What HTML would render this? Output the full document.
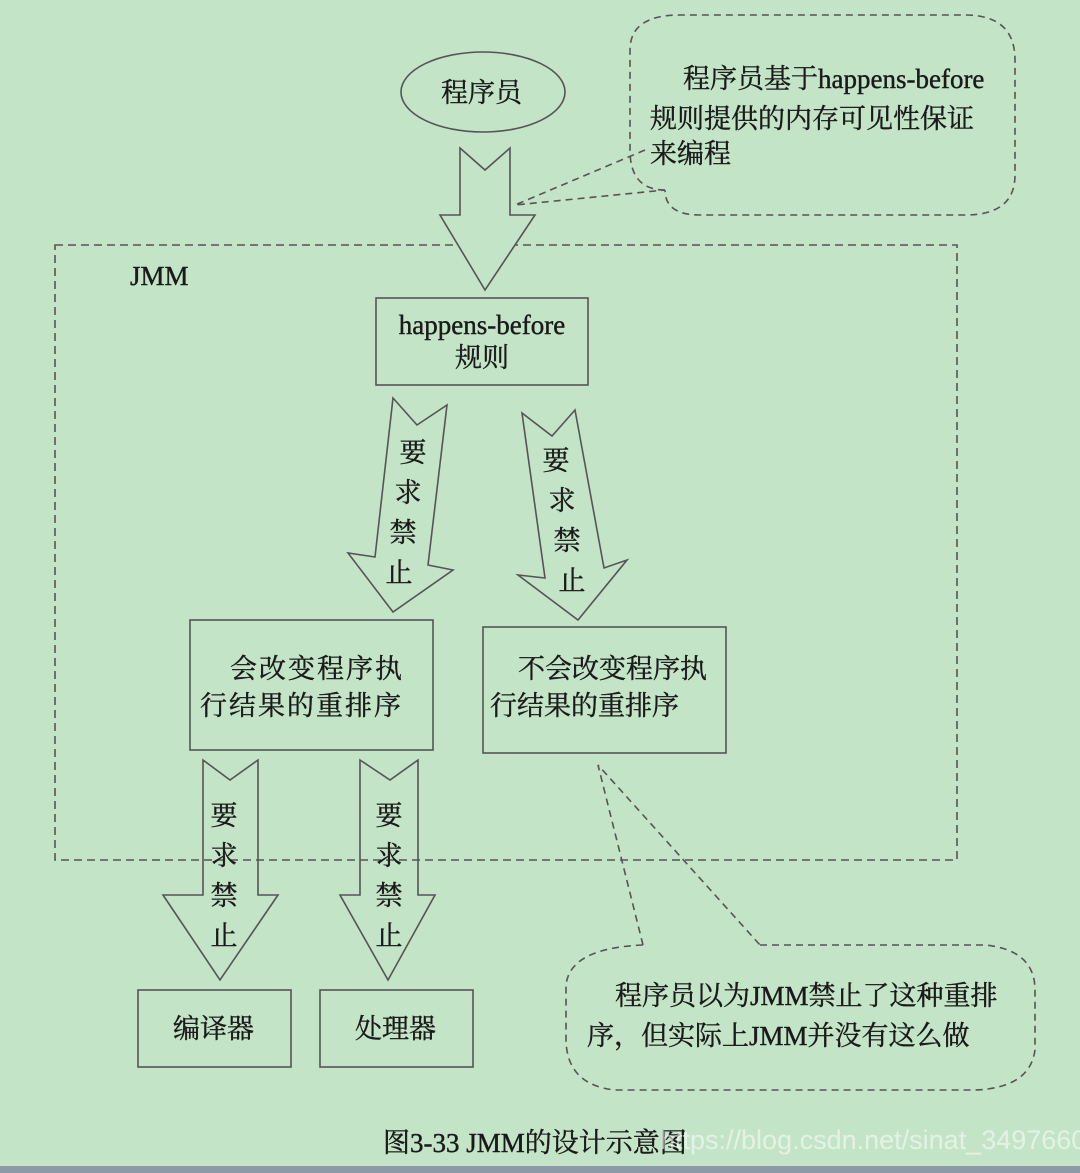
<!DOCTYPE html>
<html><head><meta charset="utf-8"><style>
html,body{margin:0;padding:0;background:#c3e4c6;}
svg{display:block}
text{font-family:"Liberation Serif","Noto Serif CJK SC",serif;fill:#1a1a1a;font-size:27px;stroke:#1a1a1a;stroke-width:0.4;}
</style></head><body>
<svg width="1080" height="1173" viewBox="0 0 1080 1173">
<rect width="1080" height="1173" fill="#c3e4c6"/>
<rect x="0" y="1166" width="1080" height="7" fill="#8c9aa8"/>
<g fill="none" stroke="#555" stroke-width="1.6">
<ellipse cx="483" cy="92" rx="82" ry="40"/>
<path d="M645,150 L515,205 L665,190" stroke-dasharray="7,5"/>
<path d="M665,190 Q630,190 630,150 L630,50 Q630,15 680,15 L965,15 Q1015,15 1015,60 L1015,175 Q1015,215 965,215 L700,215 Q665,215 665,190" stroke-dasharray="7,5"/>
<rect x="55" y="245" width="902" height="615" stroke-dasharray="8,5"/>
<path d="M460,148 L485,170 L510,148 L510,215 L535,215 L485,290 L440,215 L460,215 Z" fill="#c3e4c6"/>
<rect x="376" y="298" width="212" height="87"/>
<path d="M393,398 L417,425 L447,405 L428,565 L453,570 L393,612 L348,553 L375,557 Z"/>
<path d="M522,413 L552,436 L575,410 L604,568 L627,560 L578,620 L518,575 L545,578 Z"/>
<rect x="190" y="620" width="243" height="130"/>
<rect x="483" y="627" width="243" height="126"/>
<path d="M203,760 L230,780 L258,760 L258,895 L278,895 L220,980 L163,895 L203,895 Z"/>
<path d="M360,760 L390,780 L418,760 L418,895 L435,895 L388,980 L340,895 L360,895 Z"/>
<rect x="138" y="990" width="153" height="77"/>
<rect x="320" y="990" width="153" height="77"/>
<path d="M643,945 L598,765 L760,945" stroke-dasharray="7,5"/>
<path d="M760,945 L985,945 Q1035,950 1035,990 L1035,1050 Q1030,1088 975,1090 L615,1090 Q567,1085 566,1040 L566,985 Q570,948 643,945" stroke-dasharray="7,5"/>
</g>
<text x="441" y="102">程序员</text>
<text x="683" y="88">程序员基于happens-before</text>
<text x="650" y="128">规则提供的内存可见性保证</text>
<text x="650" y="163">来编程</text>
<text x="130" y="285" font-size="24">JMM</text>
<text x="482" y="334" text-anchor="middle" font-size="25">happens-before</text>
<text x="482" y="367" text-anchor="middle">规则</text>
<g text-anchor="middle">
<text x="413" y="462">要</text><text x="408" y="502">求</text><text x="403" y="542">禁</text><text x="399" y="582">止</text>
<text x="556" y="470">要</text><text x="562" y="510">求</text><text x="567" y="550">禁</text><text x="572" y="590">止</text>
<text x="224" y="825">要</text><text x="224" y="865">求</text><text x="224" y="905">禁</text><text x="224" y="945">止</text>
<text x="389" y="825">要</text><text x="389" y="865">求</text><text x="389" y="905">禁</text><text x="389" y="945">止</text>
</g>
<text x="230" y="678" letter-spacing="2">会改变程序执</text>
<text x="200" y="715" letter-spacing="2">行结果的重排序</text>
<text x="518" y="678">不会改变程序执</text>
<text x="490" y="715">行结果的重排序</text>
<text x="173" y="1038">编译器</text>
<text x="355" y="1038">处理器</text>
<text x="615" y="1005">程序员以为JMM禁止了这种重排</text>
<text x="587" y="1045">序，但实际上JMM并没有这么做</text>
<text x="383" y="1152" font-size="23">图3-33  JMM的设计示意图</text>
<text x="660" y="1149" font-size="20" style="fill:#ffffff;stroke:none;opacity:0.55;font-family:'Liberation Sans',sans-serif">https://blog.csdn.net/sinat_34976604</text>
</svg>
</body></html>
